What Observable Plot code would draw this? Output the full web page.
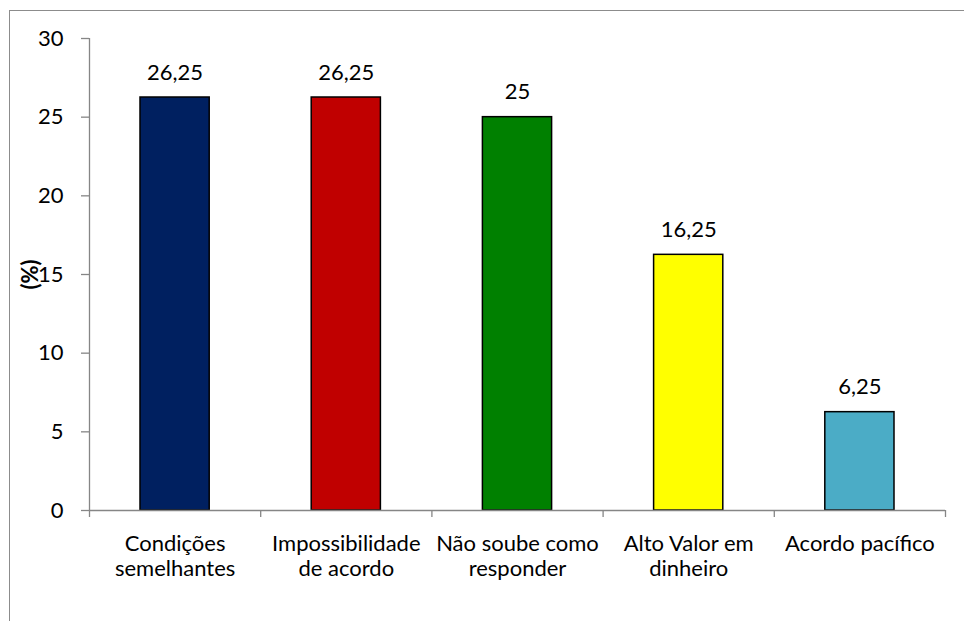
<!DOCTYPE html>
<html>
<head>
<meta charset="utf-8">
<script src="https://cdn.jsdelivr.net/npm/d3@7"></script>
<script src="https://cdn.jsdelivr.net/npm/@observablehq/plot@0.6"></script>
<style>
  html, body { margin: 0; padding: 0; background: #fff; }
  #wrap { position: relative; width: 964px; height: 621px; overflow: hidden; }
  #border { position: absolute; left: 9px; top: 10px; right: -10px; bottom: -10px;
            border-top: 1.3px solid #8c8c8c; border-left: 1.3px solid #8c8c8c; pointer-events: none; }
  #chart svg { display: block; }
</style>
</head>
<body>
<div id="wrap">
  <div id="border"></div>
  <div id="chart"></div>
</div>
<script>
// Motivos apontados (%)
const categories = [
  "Condições\nsemelhantes",
  "Impossibilidade\nde acordo",
  "Não soube como\nresponder",
  "Alto Valor em\ndinheiro",
  "Acordo pacífico"
];
const values = [26.25, 26.25, 25, 16.25, 6.25];
const colors = ["#002060", "#C00000", "#008000", "#FFFF00", "#4BACC6"];
const yTicks = [0, 5, 10, 15, 20, 25, 30];

const rows = categories.map((c, i) => ({i, category: c, value: values[i], color: colors[i]}));
const axisGray = "#868686";
const font = "Lato, 'Open Sans', sans-serif";
const fmt = v => String(v).replace(".", ",");

const chart = Plot.plot({
  width: 964,
  height: 621,
  marginLeft: 89,
  marginRight: 19,
  marginTop: 38,
  marginBottom: 111,
  style: {fontFamily: font, fontSize: "22px", color: "#000", background: "transparent"},
  x: {domain: [0, categories.length], axis: null},
  y: {domain: [0, 30], axis: null},
  marks: [
    // bars
    Plot.rectY(rows, {
      x1: d => d.i, x2: d => d.i + 1, y: "value",
      fill: "color", stroke: "#000", strokeWidth: 1.5,
      insetLeft: 51, insetRight: 51
    }),
    // value labels
    Plot.text(rows, {
      x: d => d.i + 0.5, y: "value", text: d => fmt(d.value),
      lineAnchor: "bottom", dy: -18, fontSize: 22, fill: "#000"
    }),
    // y axis
    Plot.ruleX([0], {y1: 0, y2: 30, stroke: axisGray, strokeWidth: 1.3}),
    Plot.axisY({
      ticks: yTicks, tickSize: 8, tickPadding: 18, stroke: axisGray, strokeWidth: 1.3,
      fill: "#000", fontSize: 22,
      label: "(%)", labelAnchor: "center", labelOffset: 67, labelArrow: "none"
    }),
    // x axis: baseline, category separators, labels
    Plot.ruleY([0], {stroke: axisGray, strokeWidth: 1.3}),
    Plot.axisX({ticks: d3.range(categories.length + 1), tickSize: 7, stroke: axisGray, strokeWidth: 1.3,
                fill: "none", label: null}),
    Plot.axisX({
      ticks: categories.map((c, i) => i + 0.5),
      tickFormat: v => categories[Math.floor(v)],
      tickSize: 0, tickPadding: 23, lineHeight: 1.13, fill: "#000", fontSize: 22, label: null
    })
  ]
});

// bold axis title
chart.querySelectorAll("text").forEach(t => {
  if (t.textContent.trim() === "(%)") t.setAttribute("font-weight", "bold");
});
document.getElementById("chart").appendChild(chart);
</script>
</body>
</html>
